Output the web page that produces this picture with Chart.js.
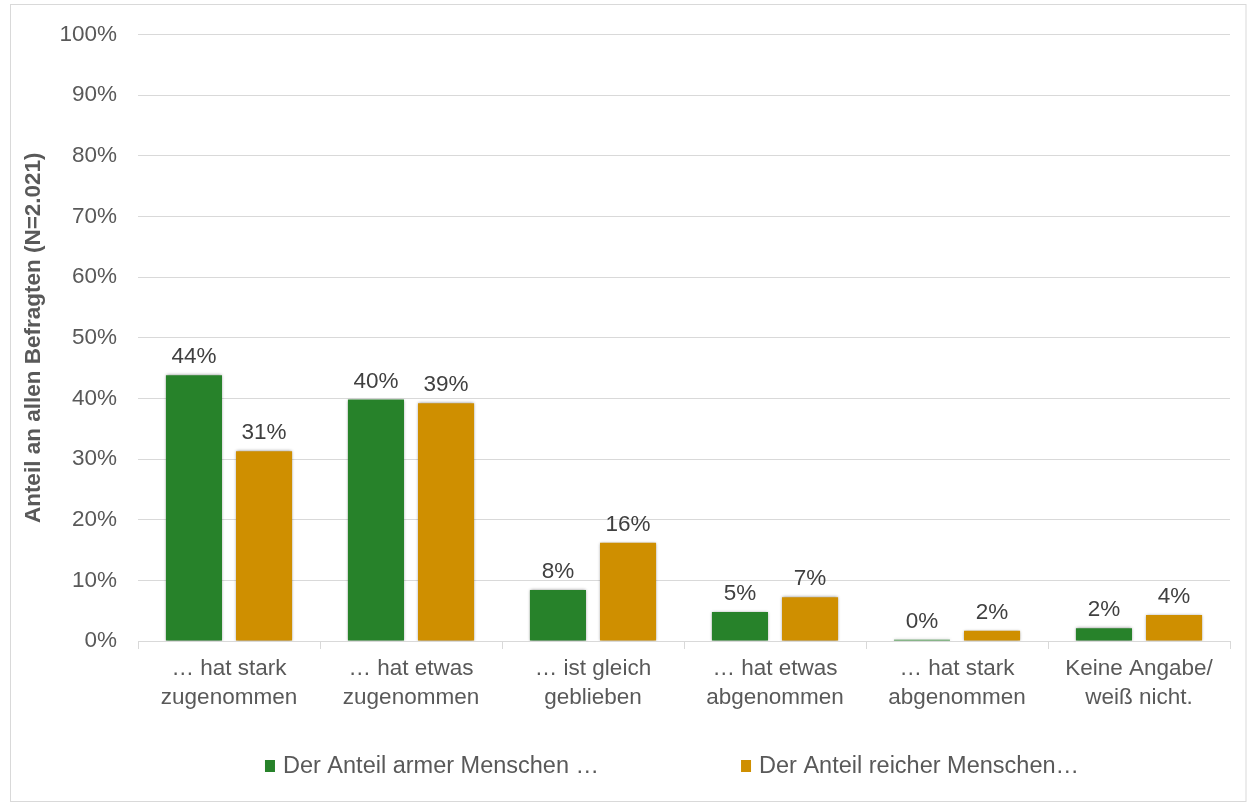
<!DOCTYPE html>
<html>
<head>
<meta charset="utf-8">
<script src="https://cdn.jsdelivr.net/npm/chart.js@4.4.0/dist/chart.umd.min.js"></script>
<style>
  body { margin: 0; background: #fff; }
  #wrap { position: absolute; left: 0; top: 0; width: 1247px; height: 803px; }
</style>
</head>
<body>
<div id="wrap"><canvas id="grafico" width="1247" height="803"></canvas></div>
<script>
var kategorien = [
    ['\u2026 hat stark', 'zugenommen'],
    ['\u2026 hat etwas', 'zugenommen'],
    ['\u2026 ist gleich', 'geblieben'],
    ['\u2026 hat etwas', 'abgenommen'],
    ['\u2026 hat stark', 'abgenommen'],
    ['Keine Angabe/', 'wei\u00df nicht.']
];
var arme    = [43.8, 39.8, 8.4, 4.8, 0.2, 2.1];
var reiche  = [31.3, 39.2, 16.2, 7.2, 1.7, 4.3];
var serien  = ['Der Anteil armer Menschen \u2026', 'Der Anteil reicher Menschen\u2026'];
var farben  = ['#27822a', '#cf8f00'];
var yTitel  = 'Anteil an allen Befragten (N=2.021)';

var schrift = "'Liberation Sans', Arial, sans-serif";
var groesse = 22.5;
var grau = '#595959';

// Rahmen um das ganze Bild
var rahmen = {
    id: 'rahmen',
    beforeDraw: function (chart) {
        var ctx = chart.ctx;
        ctx.save();
        ctx.fillStyle = '#fff';
        ctx.fillRect(0, 0, chart.width, chart.height);
        ctx.strokeStyle = '#d9d9d9';
        ctx.lineWidth = 1;
        ctx.strokeRect(10.5, 4.5, chart.width - 11.5, chart.height - 6);
        ctx.restore();
    }
};

// leichter Schatten an den Balken + Werte darüber
var werte = {
    id: 'werte',
    beforeDatasetsDraw: function (chart) {
        var ctx = chart.ctx;
        ctx.save();
        ctx.shadowColor = 'rgba(0,0,0,0.45)';
        ctx.shadowBlur = 3;
    },
    afterDatasetsDraw: function (chart) {
        var ctx = chart.ctx;
        ctx.restore();
        ctx.save();
        ctx.font = groesse + 'px ' + schrift;
        ctx.fillStyle = '#404040';
        ctx.textAlign = 'center';
        ctx.textBaseline = 'alphabetic';
        chart.data.datasets.forEach(function (ds, i) {
            chart.getDatasetMeta(i).data.forEach(function (bar, j) {
                ctx.fillText(Math.round(ds.data[j]) + '%', bar.x, bar.y - 12);
            });
        });
        ctx.restore();
    }
};

// Legende unten
var legende = {
    id: 'legende',
    afterDraw: function (chart) {
        var ctx = chart.ctx;
        var area = chart.chartArea;
        ctx.save();
        ctx.font = '23.5px ' + schrift;
        ctx.textBaseline = 'middle';
        var abstand = 142;
        var breiten = chart.data.datasets.map(function (ds) { return 18 + ctx.measureText(ds.label).width; });
        var gesamt = breiten[0] + abstand + breiten[1];
        var x = (area.left + area.right) / 2 - 12 - gesamt / 2;
        var y = 766;
        chart.data.datasets.forEach(function (ds, i) {
            ctx.fillStyle = ds.backgroundColor;
            ctx.fillRect(x, y - 6, 10, 12);
            ctx.fillStyle = grau;
            ctx.fillText(ds.label, x + 18, y + 1);
            x += breiten[i] + abstand;
        });
        ctx.restore();
    }
};

var myChart = new Chart(document.getElementById('grafico'), {
    type: 'bar',
    data: {
        labels: kategorien,
        datasets: [
            { label: serien[0], data: arme, backgroundColor: farben[0] },
            { label: serien[1], data: reiche, backgroundColor: farben[1] }
        ]
    },
    options: {
        responsive: false,
        animation: false,
        devicePixelRatio: 1,
        layout: { padding: { left: 10, right: 17, top: 33, bottom: 72 } },
        datasets: { bar: { categoryPercentage: 0.77, barPercentage: 0.8 } },
        plugins: {
            legend: { display: false },
            tooltip: { enabled: false }
        },
        scales: {
            x: {
                grid: { display: true, drawOnChartArea: false, drawTicks: true, tickLength: 8, color: '#d9d9d9' },
                border: { display: true, color: '#d9d9d9' },
                ticks: { color: grau, font: { family: schrift, size: groesse, lineHeight: 1.3 }, padding: 5, maxRotation: 0, autoSkip: false },
                afterFit: function (scale) { scale.height = 90; }
            },
            y: {
                min: 0,
                max: 100,
                grid: { color: '#d9d9d9', drawTicks: false },
                border: { display: false },
                ticks: {
                    stepSize: 10,
                    color: grau,
                    padding: 21,
                    font: { family: schrift, size: groesse },
                    callback: function (v) { return v + '%'; }
                },
                title: {
                    display: true,
                    text: yTitel,
                    color: grau,
                    font: { family: schrift, size: groesse, weight: 'bold' },
                    padding: { top: 10, bottom: 0 }
                },
                afterFit: function (scale) { scale.width = 128; }
            }
        }
    },
    plugins: [rahmen, werte, legende]
});
</script>
</body>
</html>
